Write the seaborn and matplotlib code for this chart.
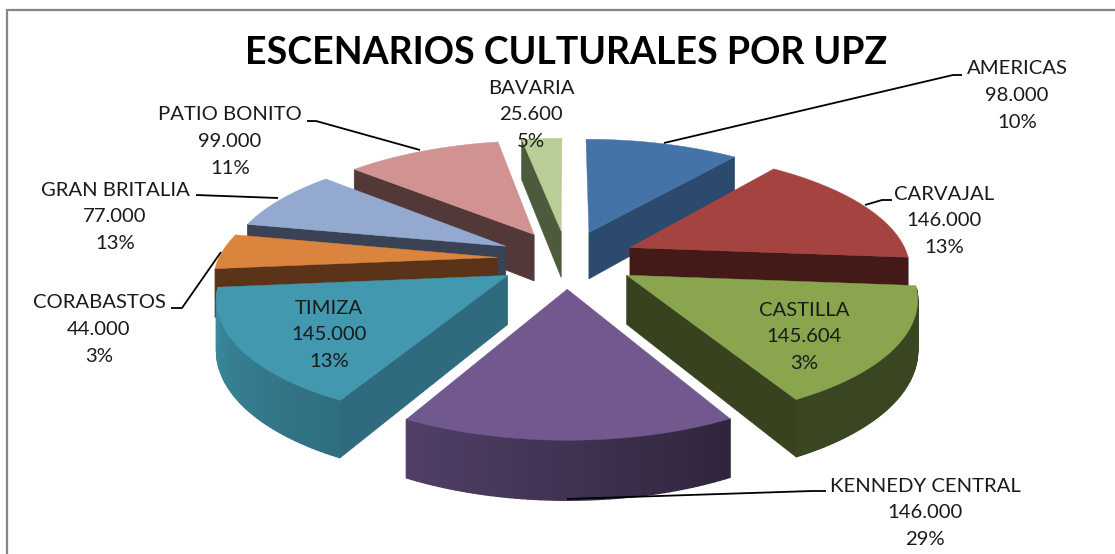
import numpy as np
import matplotlib
matplotlib.use('Agg')
import matplotlib.pyplot as plt
import seaborn as sns

sns.set_theme(style='white')
plt.rcParams['font.family'] = ['Lato', 'DejaVu Sans']

# Values and labels as printed on the chart
names = ['AMERICAS', 'CARVAJAL', 'CASTILLA', 'KENNEDY CENTRAL', 'TIMIZA',
         'CORABASTOS', 'GRAN BRITALIA', 'PATIO BONITO', 'BAVARIA']
values = [98000, 146000, 145604, 146000, 145000, 44000, 77000, 99000, 25600]
value_labels = ['98.000', '146.000', '145.604', '146.000', '145.000',
                '44.000', '77.000', '99.000', '25.600']
pct_labels = ['10%', '13%', '3%', '29%', '13%', '3%', '13%', '11%', '5%']

top_colors = ['#4572A7', '#A44340', '#89A54E', '#71588F', '#4198AF',
              '#DB843D', '#93A9CF', '#D19392', '#B9CD96']
cut_colors = ['#2C4A6E', '#431A18', '#38421E', '#2B2038', '#2F6A7E',
              '#5A3318', '#3A4356', '#533838', '#4E5A3C']
palette = sns.color_palette(top_colors)

# Pie geometry, in pixels
cx, cy = 567, 259
rx, ry = 279, 116
persp = 0.16
explode = 0.25
depth = 48

# Paint order, back to front
draw_order = [0, 8, 1, 7, 6, 5, 2, 4, 3]

label_pos = [(1017, 69), (944, 194), (804, 310), (925, 486), (329, 308),
             (99, 303), (115, 190), (230, 115), (531, 88)]
line_step = 26.6

leaders = [[(664, 143), (953, 75), (962, 75)],
           [(865, 205), (882, 200), (892, 200)],
           [(567, 499), (812, 491), (826, 491)],
           [(221, 252), (182, 308), (171, 308)],
           [(278, 198), (196, 195)],
           [(420, 150), (316, 121), (307, 121)]]


def project(u, v, drop=0.0):
    s = 1 / (1 - persp * v)
    return cx + rx * u * s, cy + ry * v * s + drop * depth * s


def radial(deg):
    a = np.radians(deg)
    return np.sin(a), -np.cos(a)


fig = plt.figure(figsize=(11.15, 5.54), dpi=100)
ax = fig.add_axes([0, 0, 1, 1])
ax.set_xlim(0, 1115)
ax.set_ylim(554, 0)
ax.axis('off')

edges = np.cumsum([0] + values) / sum(values) * 360

for i in draw_order:
    a1, a2 = edges[i], edges[i + 1]
    bu, bv = radial((a1 + a2) / 2)
    tu, tv = explode * bu, explode * bv
    base = np.array(palette[i])

    # cut faces that look towards the viewer
    for ang, show in ((a1, np.sin(np.radians(a1)) < 0), (a2, np.sin(np.radians(a2)) > 0)):
        if not show:
            continue
        ru, rv = radial(ang)
        p = [project(tu, tv), project(tu + ru, tv + rv),
             project(tu + ru, tv + rv, 1), project(tu, tv, 1)]
        ax.fill(*zip(*p), color=cut_colors[i], lw=0.5)

    # outer rim, shaded left to right
    steps = np.linspace(a1, a2, max(int(a2 - a1), 8))
    for s1, s2 in zip(steps[:-1], steps[1:]):
        mid = (s1 + s2) / 2
        if np.cos(np.radians(mid)) > -0.095:
            continue
        u1, v1 = radial(s1)
        u2, v2 = radial(s2)
        p = [project(tu + u1, tv + v1), project(tu + u2, tv + v2),
             project(tu + u2, tv + v2, 1), project(tu + u1, tv + v1, 1)]
        shade = np.interp(mid, [95, 152, 208, 264], [0.42, 0.42, 0.72, 0.92])
        ax.fill(*zip(*p), color=base * shade, lw=1.0)

    # top face
    ru, rv = radial(steps)
    top = [project(tu, tv)] + [project(tu + a, tv + b) for a, b in zip(ru, rv)]
    ax.fill(*zip(*top), color=base, lw=0.3)

for pts in leaders:
    ax.plot(*zip(*pts), color='black', lw=1.3, solid_capstyle='butt')

for name, val, pct, (x, y) in zip(names, value_labels, pct_labels, label_pos):
    for k, line in enumerate((name, val, pct)):
        ax.text(x, y + k * line_step, line, ha='center', va='center',
                fontsize=14.6, color='#1a1a1a')

ax.text(566, 53, 'ESCENARIOS CULTURALES POR UPZ', ha='center', va='center',
        fontsize=27, fontweight='bold', color='black')

# chart frame: only top and left survive the crop
ax.plot([7, 7, 1115], [554, 10, 10], color='#868686', lw=1.6, solid_joinstyle='miter')

fig.savefig('out.png', dpi=100)
